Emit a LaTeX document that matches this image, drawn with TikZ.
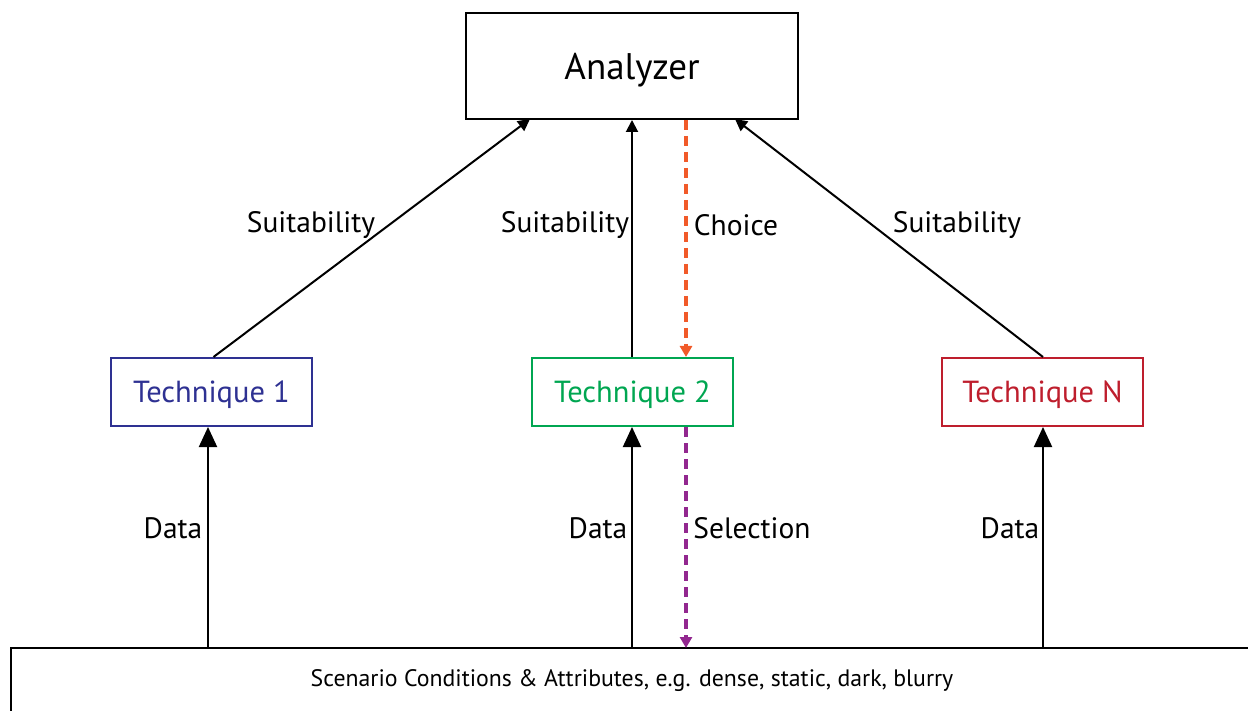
\documentclass[tikz,border=0pt]{standalone}
\usepackage{fontspec}
\setmainfont{PT Sans}
\usetikzlibrary{arrows.meta}
\definecolor{tblue}{HTML}{2E3192}
\definecolor{tgreen}{HTML}{00A651}
\definecolor{tred}{HTML}{BE1E2D}
\definecolor{corange}{HTML}{F15A29}
\definecolor{cpurple}{HTML}{92278F}
\tikzset{
  box/.style={draw, line width=2pt, minimum width=201pt, minimum height=68pt, inner sep=0pt, text depth=0pt, font=\fontsize{30.5}{36}\selectfont},
  lbl/.style={font=\fontsize{29.5}{34}\selectfont, inner sep=0pt},
  bigarrow/.style={line width=2pt, -{Triangle[width=18pt,length=20pt]}},
  smallarrow/.style={line width=2pt, -{Triangle[width=12pt,length=12pt]}},
  dasharrow/.style={line width=3.2pt, dash pattern=on 10pt off 6pt, -{Triangle[width=12pt,length=11pt]}},
}
\begin{document}
\begin{tikzpicture}[x=1pt,y=-1pt]
\useasboundingbox (0,0) rectangle (1248,711);
\clip (0,0) rectangle (1248,711);
\node[draw, line width=2pt, minimum width=332pt, minimum height=106pt, inner sep=0pt, text depth=0pt, font=\fontsize{37}{44}\selectfont] (an) at (632,66) {Analyzer};
\node[box, draw=tblue, text=tblue] (t1) at (211.5,392) {Technique 1};
\node[box, draw=tgreen, text=tgreen] (t2) at (632.5,392) {Technique 2};
\node[box, draw=tred, text=tred] (tn) at (1042.5,392) {Technique N};
\draw[line width=2pt] (11,648) coordinate (sc) rectangle (1270,740);
\node[font=\fontsize{23.8}{28}\selectfont] (sctext) at (632,681) {Scenario Conditions \& Attributes, e.g. dense, static, dark, blurry};
% data arrows
\coordinate (d1) at (208,648);
\coordinate (d2) at (632,648);
\coordinate (d3) at (1043,648);
\draw[bigarrow] (d1) -- (t1.south -| d1);
\draw[bigarrow] (d2) -- (t2.south -| d2);
\draw[bigarrow] (d3) -- (tn.south -| d3);
% suitability arrows
\draw[smallarrow] (t1.north) ++(2,0) -- (530,119);
\draw[smallarrow] (t2.north -| d2) -- (an.south -| d2);
\draw[smallarrow] (tn.north -| d3) -- (735,119);
% choice and selection
\coordinate (cx) at (686,0);
\draw[dasharrow, corange] (an.south -| cx) -- (t2.north -| cx);
\draw[dasharrow, cpurple] (t2.south -| cx) -- (686,648);
% labels
\node[lbl] at (311,225) {Suitability};
\node[lbl] at (565,225) {Suitability};
\node[lbl] at (957,225) {Suitability};
\node[lbl] at (736,225) {Choice};
\node[lbl] at (173,528) {Data};
\node[lbl] at (598,528) {Data};
\node[lbl] at (1010,528) {Data};
\node[lbl] at (752,528) {Selection};
\end{tikzpicture}
\end{document}
